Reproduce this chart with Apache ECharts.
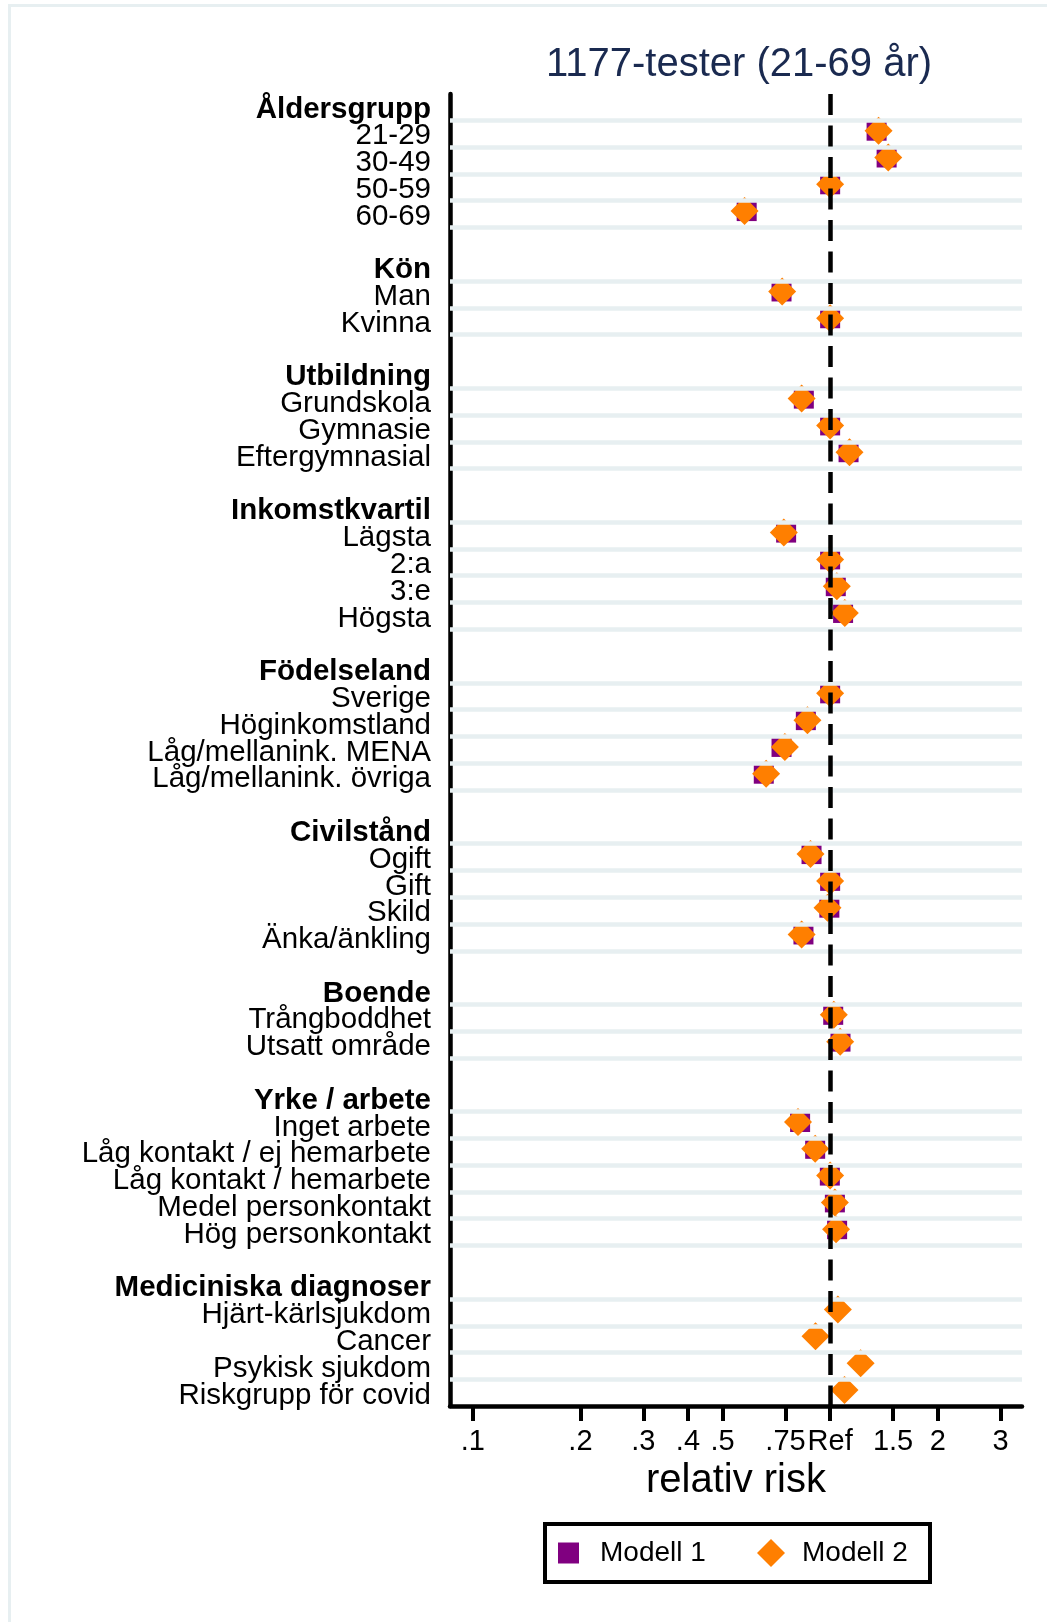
<!DOCTYPE html>
<html>
<head>
    <meta charset="UTF-8">
    <title>1177-tester</title>
    <script src="https://cdn.jsdelivr.net/npm/echarts@6/dist/echarts.min.js"></script>
    <style>
        html, body { margin: 0; padding: 0; background: #fff; }
    </style>
</head>
<body>
<div id="chart" style="width: 1047px; height: 1622px;"></div>

<script type="text/javascript">
    var groupNames = ['Åldersgrupp', 'Kön', 'Utbildning', 'Inkomstkvartil', 'Födelseland',
        'Civilstånd', 'Boende', 'Yrke / arbete', 'Mediciniska diagnoser'];
    var groupItems = [
        ['21-29', '30-49', '50-59', '60-69'],
        ['Man', 'Kvinna'],
        ['Grundskola', 'Gymnasie', 'Eftergymnasial'],
        ['Lägsta', '2:a', '3:e', 'Högsta'],
        ['Sverige', 'Höginkomstland', 'Låg/mellanink. MENA', 'Låg/mellanink. övriga'],
        ['Ogift', 'Gift', 'Skild', 'Änka/änkling'],
        ['Trångboddhet', 'Utsatt område'],
        ['Inget arbete', 'Låg kontakt / ej hemarbete', 'Låg kontakt / hemarbete', 'Medel personkontakt', 'Hög personkontakt'],
        ['Hjärt-kärlsjukdom', 'Cancer', 'Psykisk sjukdom', 'Riskgrupp för covid']
    ];
    // relativ risk, modell 1 (no diagnoses in modell 1)
    var modell1 = [
        [1.349, 1.439, 1.00, 0.584],
        [0.731, 1.00],
        [0.844, 1.00, 1.126],
        [0.753, 1.00, 1.037, 1.087],
        [1.00, 0.855, 0.731, 0.652],
        [0.887, 1.00, 0.995, 0.842],
        [1.020, 1.069],
        [0.824, 0.908, 0.998, 1.031, 1.046],
        [null, null, null, null]
    ];
    // relativ risk, modell 2
    var modell2 = [
        [1.366, 1.454, 1.00, 0.576],
        [0.734, 1.00],
        [0.832, 1.00, 1.133],
        [0.742, 1.00, 1.044, 1.099],
        [1.00, 0.864, 0.747, 0.662],
        [0.881, 1.00, 0.983, 0.832],
        [1.024, 1.067],
        [0.813, 0.908, 1.00, 1.031, 1.039],
        [1.051, 0.910, 1.217, 1.097]
    ];
    var tickValues = [0.1, 0.2, 0.3, 0.4, 0.5, 0.75, 1, 1.5, 2, 3];
    var tickLabels = ['.1', '.2', '.3', '.4', '.5', '.75', 'Ref', '1.5', '2', '3'];

    // rows: header, items, blank row between groups
    var rowLabels = [];
    var rowHeader = [];
    var itemRows = [];
    var data1 = [];
    var data2 = [];
    var row = 0;
    for (var g = 0; g < groupNames.length; g++) {
        rowLabels[row] = groupNames[g];
        rowHeader[row] = true;
        row++;
        for (var i = 0; i < groupItems[g].length; i++) {
            rowLabels[row] = groupItems[g][i];
            itemRows.push(row);
            if (modell1[g][i] != null) data1.push([Math.log10(modell1[g][i]), row]);
            if (modell2[g][i] != null) data2.push([Math.log10(modell2[g][i]), row]);
            row++;
        }
        if (g < groupNames.length - 1) row++;
    }
    var nRows = row;
    var yMin = -0.37, yMax = nRows - 1 + 0.6;

    // empty placeholders at both ends, so that echarts' min/max label check
    // drops them instead of the first/last real label
    var labelRows = [yMin + 0.01];
    for (var r = 0; r < nRows; r++) {
        if (rowLabels[r]) labelRows.push(r);
    }
    labelRows.push(yMax - 0.01);

    // light grid lines above and below each item row
    var gridPos = [];
    itemRows.forEach(function (r) {
        [r - 0.39, r + 0.61].forEach(function (p) {
            var key = p.toFixed(2);
            if (gridPos.indexOf(key) < 0) gridPos.push(key);
        });
    });
    var gridLines = gridPos.map(function (p) { return { yAxis: parseFloat(p) }; });

    var font = 'Liberation Sans, Arial, sans-serif';

    var chart = echarts.init(document.getElementById('chart'));
    chart.setOption({
        backgroundColor: '#fff',
        animation: false,
        graphic: [
            {
                type: 'rect',
                silent: true,
                shape: { x: 9.5, y: 5.5, width: 1100, height: 1700 },
                style: { fill: null, stroke: '#e7eff1', lineWidth: 3 }
            },
            {
                type: 'text',
                silent: true,
                style: {
                    text: '1177-tester (21-69 år)',
                    x: 739, y: 65,
                    align: 'center', verticalAlign: 'middle',
                    font: '40px Liberation Sans, Arial, sans-serif',
                    fill: '#1a2a50'
                }
            },
            {
                type: 'rect',
                silent: true,
                shape: { x: 545, y: 1524, width: 385, height: 58 },
                style: { fill: '#fff', stroke: '#000', lineWidth: 4 }
            }
        ],
        legend: [
            {
                data: ['Modell 1'],
                left: 558, top: 1539,
                padding: 0,
                icon: 'rect',
                itemWidth: 21, itemHeight: 21,
                selectedMode: false,
                textStyle: { fontFamily: font, fontSize: 28, color: '#000', padding: [0, 0, 0, 16] }
            },
            {
                data: ['Modell 2'],
                left: 757, top: 1539,
                padding: 0,
                icon: 'diamond',
                itemWidth: 28, itemHeight: 28,
                selectedMode: false,
                textStyle: { fontFamily: font, fontSize: 28, color: '#000', padding: [0, 0, 0, 12] }
            }
        ],
        grid: { left: 450, right: 25, top: 94, bottom: 216, containLabel: false },
        xAxis: {
            type: 'value',
            min: -1.064,
            max: 0.537,
            name: 'relativ risk',
            nameLocation: 'middle',
            nameGap: 52,
            nameTextStyle: { fontFamily: font, fontSize: 40, color: '#000' },
            axisLine: { show: true, onZero: false, lineStyle: { color: '#000', width: 4.5 } },
            axisTick: {
                show: true, length: 15,
                customValues: tickValues.map(function (v) { return Math.log10(v); }),
                lineStyle: { color: '#000', width: 4 }
            },
            axisLabel: {
                margin: 21,
                fontFamily: font, fontSize: 29, color: '#000',
                showMinLabel: true, showMaxLabel: true,
                hideOverlap: false,
                customValues: tickValues.map(function (v) { return Math.log10(v); }),
                formatter: function (v) {
                    for (var k = 0; k < tickValues.length; k++) {
                        if (Math.abs(Math.log10(tickValues[k]) - v) < 1e-6) return tickLabels[k];
                    }
                    return '';
                }
            },
            splitLine: { show: false }
        },
        yAxis: {
            type: 'value',
            inverse: true,
            min: yMin,
            max: yMax,
            axisLine: { show: true, onZero: false, lineStyle: { color: '#000', width: 4.5 } },
            axisTick: { show: false },
            splitLine: { show: false },
            axisLabel: {
                margin: 19,
                lineHeight: 14,
                padding: [11, 0, 0, 0],
                showMinLabel: false, showMaxLabel: false,
                hideOverlap: false,
                customValues: labelRows,
                formatter: function (v) {
                    var r = Math.round(v);
                    if (Math.abs(v - r) > 0.001) return '';
                    var t = rowLabels[r] || '';
                    return rowHeader[r] ? '{h|' + t + '}' : '{n|' + t + '}';
                },
                rich: {
                    h: { fontFamily: font, fontSize: 29.5, fontWeight: 'bold', color: '#000', lineHeight: 14 },
                    n: { fontFamily: font, fontSize: 29.5, color: '#000', lineHeight: 14 }
                }
            }
        },
        series: [
            {
                name: 'grid',
                type: 'scatter',
                data: [],
                z: 1,
                silent: true,
                markLine: {
                    silent: true,
                    symbol: ['none', 'none'],
                    label: { show: false },
                    lineStyle: { color: '#e7eff1', width: 4.5, type: 'solid' },
                    data: gridLines
                }
            },
            {
                name: 'ref',
                type: 'scatter',
                data: [],
                z: 2,
                silent: true,
                markLine: {
                    silent: true,
                    symbol: ['none', 'none'],
                    label: { show: false },
                    lineStyle: { color: '#000', width: 4.5, type: [21, 10.5] },
                    data: [{ xAxis: 0 }]
                }
            },
            {
                name: 'Modell 1',
                type: 'scatter',
                symbol: 'rect',
                symbolSize: 20,
                itemStyle: { color: '#800080', opacity: 1 },
                z: 3,
                data: data1
            },
            {
                name: 'Modell 2',
                type: 'scatter',
                symbol: 'diamond',
                symbolSize: 28,
                itemStyle: { color: '#ff7f00', opacity: 1 },
                z: 4,
                data: data2
            }
        ]
    });
</script>
</body>
</html>
